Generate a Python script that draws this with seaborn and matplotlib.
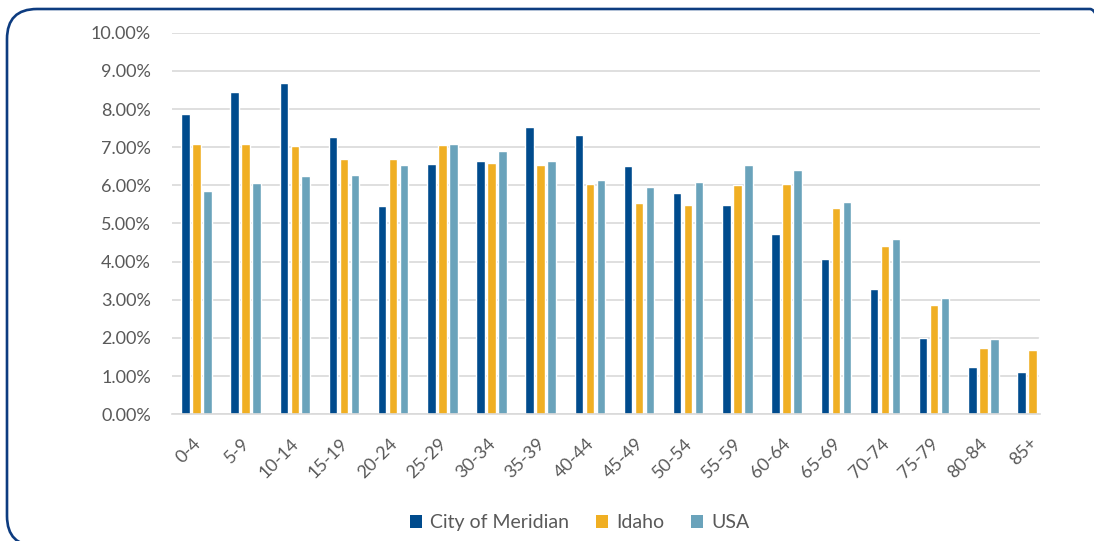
import numpy as np
import pandas as pd
import seaborn as sns
import matplotlib.pyplot as plt
from matplotlib.patches import FancyBboxPatch
from matplotlib.transforms import IdentityTransform, ScaledTranslation
from matplotlib.ticker import FuncFormatter

# Age distribution (% of population)
age_groups = ['0-4', '5-9', '10-14', '15-19', '20-24', '25-29', '30-34', '35-39', '40-44',
              '45-49', '50-54', '55-59', '60-64', '65-69', '70-74', '75-79', '80-84', '85+']
meridian = [7.86, 8.44, 8.68, 7.26, 5.46, 6.55, 6.64, 7.54, 7.32,
            6.51, 5.79, 5.48, 4.72, 4.06, 3.29, 2.00, 1.24, 1.11]
idaho = [7.08, 7.08, 7.02, 6.70, 6.70, 7.05, 6.59, 6.52, 6.04,
         5.54, 5.48, 6.01, 6.04, 5.41, 4.40, 2.86, 1.73, 1.69]
usa = [5.86, 6.06, 6.24, 6.26, 6.52, 7.08, 6.90, 6.64, 6.13,
       5.96, 6.10, 6.53, 6.40, 5.57, 4.60, 3.06, 1.97, 2.03]
areas = ['City of Meridian', 'Idaho', 'USA']
colors = ['#004b8d', '#f0af23', '#6aa3bb']

df = pd.DataFrame({
    'Age': age_groups * 3,
    'Area': [a for a in areas for _ in age_groups],
    'Share': meridian + idaho + usa,
})

sns.set_theme(style='white')
plt.rcParams['font.family'] = ['Lato', 'DejaVu Sans']
text_color = '#595959'

fig = plt.figure(figsize=(10.94, 5.41), dpi=100)
ax = fig.add_axes([0.157, 0.2342, 0.7936, 0.7054])

sns.barplot(data=df, x='Age', y='Share', hue='Area', palette=colors,
            width=0.67, gap=0.23, saturation=1, ax=ax)

ax.set_xlim(-0.5, 17.15)
ax.set_ylim(0, 10)
ax.set_yticks(range(0, 11))
ax.yaxis.set_major_formatter(FuncFormatter(lambda v, p: f'{v:.2f}%'))
ax.yaxis.grid(True, color='#d9d9d9', lw=1.2)
ax.set_axisbelow(True)
for s in ['top', 'right', 'left']:
    ax.spines[s].set_visible(False)
ax.spines['bottom'].set_color('#d9d9d9')
ax.spines['bottom'].set_linewidth(1.2)
ax.set_xlabel('')
ax.set_ylabel('')
ax.tick_params(axis='y', length=0, pad=15, labelsize=13, labelcolor=text_color)
ax.tick_params(axis='x', length=0, pad=15, labelsize=13, labelcolor=text_color)
shift = ScaledTranslation(-4 / 100, 0, fig.dpi_scale_trans)
for lbl in ax.get_xticklabels():
    lbl.set_rotation(45)
    lbl.set_ha('right')
    lbl.set_rotation_mode('anchor')
    lbl.set_transform(lbl.get_transform() + shift)

# Legend at the bottom
handles, labels = ax.get_legend_handles_labels()
ax.get_legend().remove()
for h in handles:
    h.set_edgecolor('none')
fig.legend(handles, labels, loc='center', bbox_to_anchor=(0.53, 0.034), ncol=3,
           frameon=False, handlelength=0.62, handleheight=0.62, handletextpad=0.4,
           columnspacing=1.4, fontsize=14, labelcolor=text_color)

# Rounded frame around the chart (partly cut off on the right and bottom)
frame = FancyBboxPatch((7, -5), 1113, 537, boxstyle='round,pad=0,rounding_size=30',
                       transform=IdentityTransform(), fill=False, ec='#0d3c80', lw=1.9)
fig.add_artist(frame)

fig.savefig('out.png', dpi=100)
